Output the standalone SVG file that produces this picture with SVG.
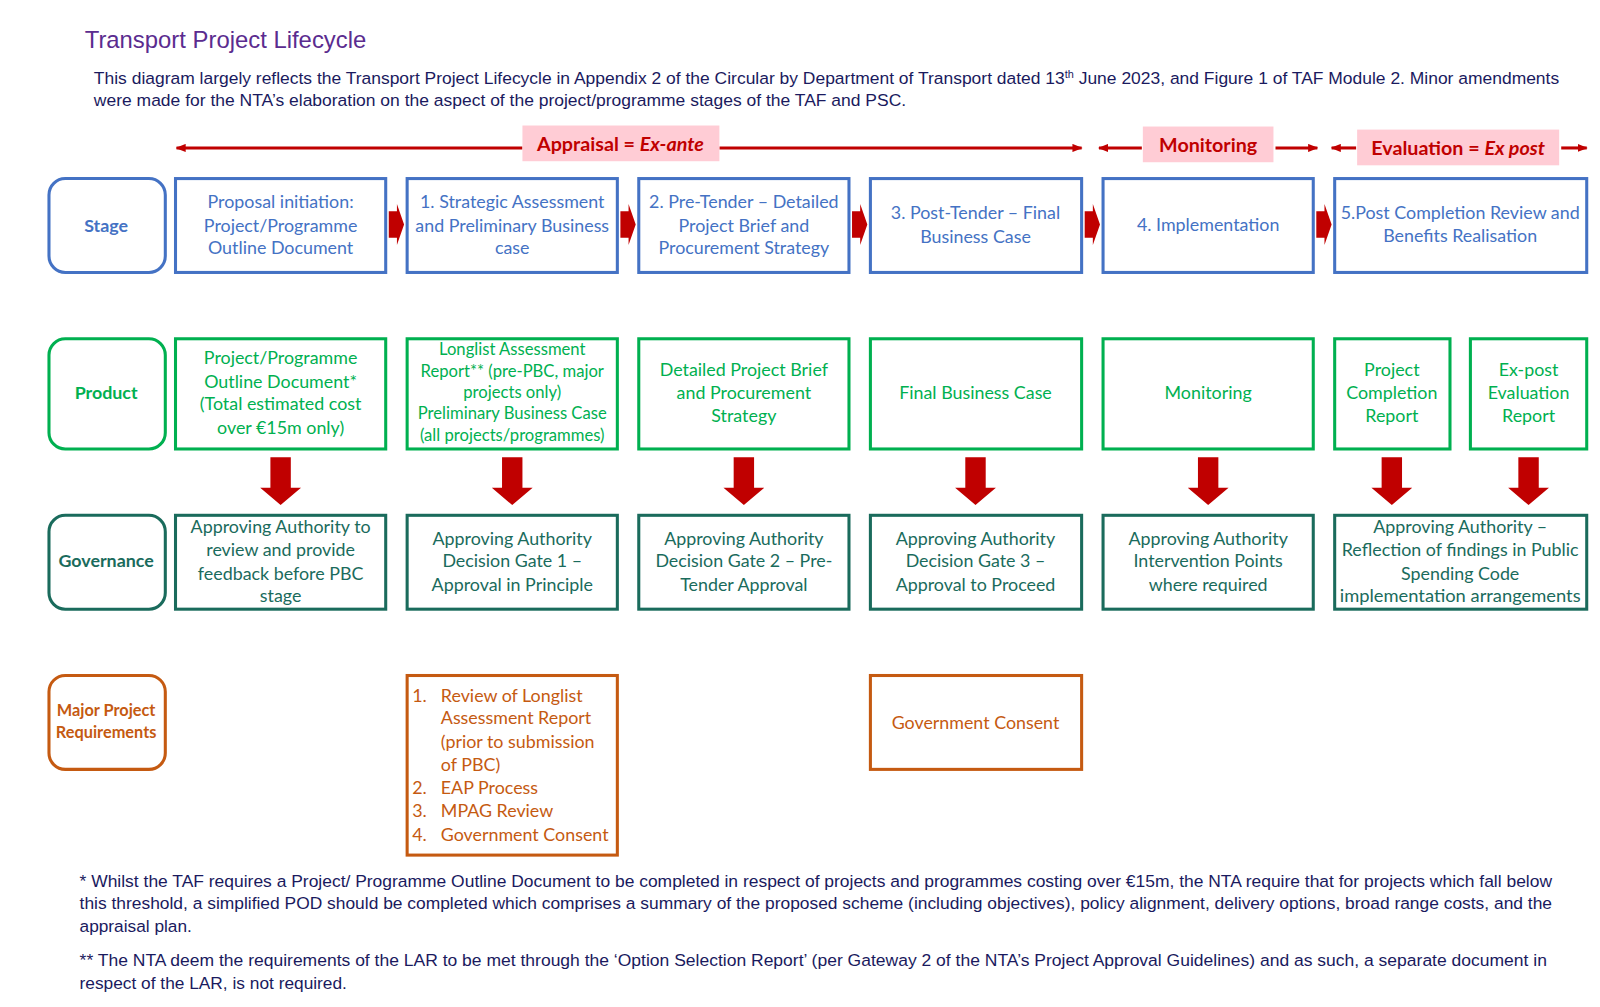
<svg xmlns="http://www.w3.org/2000/svg" width="1600" height="1007" viewBox="0 0 1600 1007">
<defs>
<marker id="ah" viewBox="0 0 10 8" refX="9" refY="4" markerWidth="10" markerHeight="8" markerUnits="userSpaceOnUse" orient="auto-start-reverse">
<path d="M0,0 L10,4 L0,8 Z" fill="#C00000"/>
</marker>
<path id="rarrow" d="M0,-13 L8,-13 L8,-20 L15,0 L8,20 L8,13 L0,13 Z" fill="#C00000"/>
<path id="darrow" d="M-10,0 L10,0 L10,30 L20,30 L0,47 L-20,30 L-10,30 Z" fill="#C00000"/>
</defs>
<style>
.title{font-family:"Liberation Sans",Arial,sans-serif;font-size:23.4px;fill:#5B2C8F}
.intro{font-family:"Liberation Sans",Arial,sans-serif;font-size:16px;fill:#1A1A5E}
.foot{font-family:"Liberation Sans",Arial,sans-serif;font-size:16px;fill:#1A1A5E}
.hdr{font-family:Lato,"Open Sans",sans-serif;font-size:19.3px;font-weight:bold;fill:#C00000}
.hbox{fill:#FFCCD5}
.hline{stroke:#C00000;stroke-width:3;fill:none}
.lbl{font-family:Lato,"Open Sans",sans-serif;font-size:17.5px;font-weight:bold;text-anchor:middle}
.lbls{font-size:16px}
.t{font-family:Lato,"Open Sans",sans-serif;font-size:17.5px;text-anchor:middle}
.ts{font-family:Lato,"Open Sans",sans-serif;font-size:16.3px;text-anchor:middle}
.bl{stroke:#4472C4;stroke-width:3;fill:#fff}
.blt{fill:#4472C4}
.gr{stroke:#00B050;stroke-width:3;fill:#fff}
.grt{fill:#00B050}
.tl{stroke:#1A6B5C;stroke-width:3;fill:#fff}
.tlt{fill:#1A6B5C}
.or{stroke:#C55A11;stroke-width:3;fill:#fff}
.ort{fill:#C55A11}
</style>
<g transform="scale(1.0204)">
<text class="title" x="83" y="47">Transport Project Lifecycle</text>
<text class="intro" x="92" y="82" textLength="1436" lengthAdjust="spacingAndGlyphs">This diagram largely reflects the Transport Project Lifecycle in Appendix 2 of the Circular by Department of Transport dated 13<tspan font-size="10" dy="-6">th</tspan><tspan dy="6"> June 2023, and Figure 1 of TAF Module 2. Minor amendments</tspan></text>
<text class="intro" x="92" y="104" textLength="796" lengthAdjust="spacingAndGlyphs">were made for the NTA’s elaboration on the aspect of the project/programme stages of the TAF and PSC.</text>

<g id="phase-headers">
<line class="hline" x1="512" y1="145" x2="173" y2="145" marker-end="url(#ah)"/>
<line class="hline" x1="705" y1="145" x2="1060" y2="145" marker-end="url(#ah)"/>
<rect class="hbox" x="512" y="123" width="193" height="35"/>
<text class="hdr" x="608" y="147.5" text-anchor="middle">Appraisal = <tspan font-style="italic">Ex-ante</tspan></text>
<line class="hline" x1="1119" y1="145" x2="1077" y2="145" marker-end="url(#ah)"/>
<line class="hline" x1="1250" y1="145" x2="1291" y2="145" marker-end="url(#ah)"/>
<rect class="hbox" x="1120" y="124" width="128" height="35"/>
<text class="hdr" x="1184" y="148.5" text-anchor="middle">Monitoring</text>
<line class="hline" x1="1329" y1="145" x2="1305" y2="145" marker-end="url(#ah)"/>
<line class="hline" x1="1530" y1="145" x2="1555" y2="145" marker-end="url(#ah)"/>
<rect class="hbox" x="1330" y="127" width="198" height="35"/>
<text class="hdr" x="1429" y="151.5" text-anchor="middle">Evaluation = <tspan font-style="italic">Ex post</tspan></text>
</g>

<!-- Stage row -->
<g id="stage-label"><rect class="bl" x="48" y="175" width="114" height="92" rx="16"/><text class="lbl blt" x="104" y="227">Stage</text></g>
<g id="stage-0"><rect class="bl" x="172" y="175" width="206" height="92"/><text class="t blt" x="275" y="204">Proposal initiation:</text><text class="t blt" x="275" y="227">Project/Programme</text><text class="t blt" x="275" y="249">Outline Document</text></g>
<g id="stage-1"><rect class="bl" x="399" y="175" width="206" height="92"/><text class="t blt" x="502" y="204">1. Strategic Assessment</text><text class="t blt" x="502" y="227">and Preliminary Business</text><text class="t blt" x="502" y="249">case</text></g>
<g id="stage-2"><rect class="bl" x="626" y="175" width="206" height="92"/><text class="t blt" x="729" y="204">2. Pre-Tender – Detailed</text><text class="t blt" x="729" y="227">Project Brief and</text><text class="t blt" x="729" y="249">Procurement Strategy</text></g>
<g id="stage-3"><rect class="bl" x="853" y="175" width="207" height="92"/><text class="t blt" x="956" y="215">3. Post-Tender – Final</text><text class="t blt" x="956" y="238">Business Case</text></g>
<g id="stage-4"><rect class="bl" x="1081" y="175" width="206" height="92"/><text class="t blt" x="1184" y="226">4. Implementation</text></g>
<g id="stage-5"><rect class="bl" x="1308" y="175" width="247" height="92"/><text class="t blt" x="1431" y="215">5.Post Completion Review and</text><text class="t blt" x="1431" y="237">Benefits Realisation</text></g>

<!-- Product row -->
<g id="product-label"><rect class="gr" x="48" y="332" width="114" height="108" rx="16"/><text class="lbl grt" x="104" y="391">Product</text></g>
<g id="product-0"><rect class="gr" x="172" y="332" width="206" height="108"/><text class="t grt" x="275" y="357">Project/Programme</text><text class="t grt" x="275" y="380">Outline Document*</text><text class="t grt" x="275" y="402">(Total estimated cost</text><text class="t grt" x="275" y="425">over €15m only)</text></g>
<g id="product-1"><rect class="gr" x="399" y="332" width="206" height="108"/><text class="ts grt" x="502" y="348">Longlist Assessment</text><text class="ts grt" x="502" y="369">Report** (pre-PBC, major</text><text class="ts grt" x="502" y="390">projects only)</text><text class="ts grt" x="502" y="411">Preliminary Business Case</text><text class="ts grt" x="502" y="432">(all projects/programmes)</text></g>
<g id="product-2"><rect class="gr" x="626" y="332" width="206" height="108"/><text class="t grt" x="729" y="368">Detailed Project Brief</text><text class="t grt" x="729" y="391">and Procurement</text><text class="t grt" x="729" y="414">Strategy</text></g>
<g id="product-3"><rect class="gr" x="853" y="332" width="207" height="108"/><text class="t grt" x="956" y="391">Final Business Case</text></g>
<g id="product-4"><rect class="gr" x="1081" y="332" width="206" height="108"/><text class="t grt" x="1184" y="391">Monitoring</text></g>
<g id="product-5"><rect class="gr" x="1308" y="332" width="113" height="108"/><text class="t grt" x="1364" y="368">Project</text><text class="t grt" x="1364" y="391">Completion</text><text class="t grt" x="1364" y="414">Report</text></g>
<g id="product-6"><rect class="gr" x="1441" y="332" width="114" height="108"/><text class="t grt" x="1498" y="368">Ex-post</text><text class="t grt" x="1498" y="391">Evaluation</text><text class="t grt" x="1498" y="414">Report</text></g>

<!-- Governance row -->
<g id="gov-label"><rect class="tl" x="48" y="505" width="114" height="92" rx="16"/><text class="lbl tlt" x="104" y="556">Governance</text></g>
<g id="gov-0"><rect class="tl" x="172" y="505" width="206" height="92"/><text class="t tlt" x="275" y="522">Approving Authority to</text><text class="t tlt" x="275" y="545">review and provide</text><text class="t tlt" x="275" y="568">feedback before PBC</text><text class="t tlt" x="275" y="590">stage</text></g>
<g id="gov-1"><rect class="tl" x="399" y="505" width="206" height="92"/><text class="t tlt" x="502" y="534">Approving Authority</text><text class="t tlt" x="502" y="556">Decision Gate 1 –</text><text class="t tlt" x="502" y="579">Approval in Principle</text></g>
<g id="gov-2"><rect class="tl" x="626" y="505" width="206" height="92"/><text class="t tlt" x="729" y="534">Approving Authority</text><text class="t tlt" x="729" y="556">Decision Gate 2 – Pre-</text><text class="t tlt" x="729" y="579">Tender Approval</text></g>
<g id="gov-3"><rect class="tl" x="853" y="505" width="207" height="92"/><text class="t tlt" x="956" y="534">Approving Authority</text><text class="t tlt" x="956" y="556">Decision Gate 3 –</text><text class="t tlt" x="956" y="579">Approval to Proceed</text></g>
<g id="gov-4"><rect class="tl" x="1081" y="505" width="206" height="92"/><text class="t tlt" x="1184" y="534">Approving Authority</text><text class="t tlt" x="1184" y="556">Intervention Points</text><text class="t tlt" x="1184" y="579">where required</text></g>
<g id="gov-5"><rect class="tl" x="1308" y="505" width="247" height="92"/><text class="t tlt" x="1431" y="522">Approving Authority –</text><text class="t tlt" x="1431" y="545">Reflection of findings in Public</text><text class="t tlt" x="1431" y="568">Spending Code</text><text class="t tlt" x="1431" y="590" textLength="236" lengthAdjust="spacingAndGlyphs">implementation arrangements</text></g>

<!-- Major project requirements -->
<g id="major-label"><rect class="or" x="48" y="662" width="114" height="92" rx="16"/><text class="lbl lbls ort" x="104" y="702">Major Project</text><text class="lbl lbls ort" x="104" y="723">Requirements</text></g>
<g id="major-1"><rect class="or" x="399" y="662" width="206" height="176"/>
<g class="ort" font-family="Lato,'Open Sans',sans-serif" font-size="17.5">
<text x="404" y="688">1.</text><text x="432" y="688">Review of Longlist</text>
<text x="432" y="710">Assessment Report</text>
<text x="432" y="733">(prior to submission</text>
<text x="432" y="756">of PBC)</text>
<text x="404" y="778">2.</text><text x="432" y="778">EAP Process</text>
<text x="404" y="801">3.</text><text x="432" y="801">MPAG Review</text>
<text x="404" y="824">4.</text><text x="432" y="824">Government Consent</text>
</g></g>
<g id="major-3"><rect class="or" x="853" y="662" width="207" height="92"/><text class="t ort" x="956" y="714">Government Consent</text></g>

<!-- Connectors -->
<g id="connectors">
<use href="#rarrow" x="381" y="220"/>
<use href="#rarrow" x="608" y="220"/>
<use href="#rarrow" x="835" y="220"/>
<use href="#rarrow" x="1063" y="220"/>
<use href="#rarrow" x="1290" y="220"/>
<use href="#darrow" x="275" y="448"/>
<use href="#darrow" x="502" y="448"/>
<use href="#darrow" x="729" y="448"/>
<use href="#darrow" x="956" y="448"/>
<use href="#darrow" x="1184" y="448"/>
<use href="#darrow" x="1364" y="448"/>
<use href="#darrow" x="1498" y="448"/>
</g>

<!-- Footnotes -->
<text class="foot" x="78" y="869" textLength="1443" lengthAdjust="spacingAndGlyphs">* Whilst the TAF requires a Project/ Programme Outline Document to be completed in respect of projects and programmes costing over €15m, the NTA require that for projects which fall below</text>
<text class="foot" x="78" y="891" textLength="1443" lengthAdjust="spacingAndGlyphs">this threshold, a simplified POD should be completed which comprises a summary of the proposed scheme (including objectives), policy alignment, delivery options, broad range costs, and the</text>
<text class="foot" x="78" y="913" textLength="110" lengthAdjust="spacingAndGlyphs">appraisal plan.</text>
<text class="foot" x="78" y="947" textLength="1438" lengthAdjust="spacingAndGlyphs">** The NTA deem the requirements of the LAR to be met through the ‘Option Selection Report’ (per Gateway 2 of the NTA’s Project Approval Guidelines) and as such, a separate document in</text>
<text class="foot" x="78" y="969" textLength="262" lengthAdjust="spacingAndGlyphs">respect of the LAR, is not required.</text>
</g>
</svg>
